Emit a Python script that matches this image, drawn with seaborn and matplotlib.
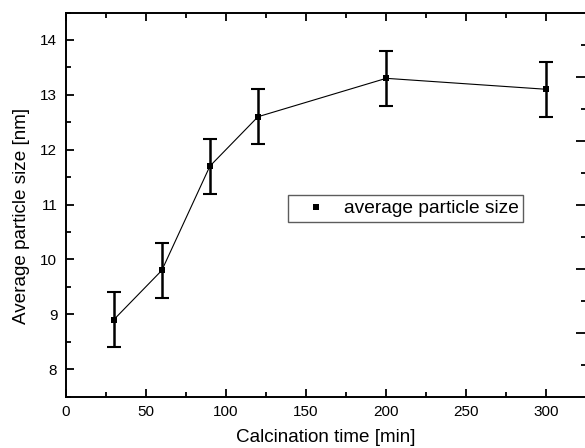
import matplotlib
matplotlib.use("Agg")
import matplotlib.pyplot as plt
import seaborn as sns
import pandas as pd
from matplotlib.lines import Line2D
from matplotlib.ticker import MultipleLocator, FixedLocator

time_min = [30, 60, 90, 120, 200, 300]
particle_size = [8.9, 9.8, 11.7, 12.6, 13.3, 13.1]
size_err = [0.5, 0.5, 0.5, 0.5, 0.5, 0.5]

sns.set_theme(style="ticks")
plt.rcParams['font.family'] = ['Liberation Sans', 'DejaVu Sans']
plt.rcParams['text.color'] = 'black'
plt.rcParams['axes.labelcolor'] = 'black'

W, H = 585, 448
fig = plt.figure(figsize=(W / 100, H / 100), dpi=100)
left, right, bottom, top = 65.7, 586.5, 396.5, 12.5
ax = fig.add_axes([left / W, 1 - bottom / H, (right - left) / W, (bottom - top) / H])

df = pd.DataFrame({"t": time_min, "s": particle_size})
ax.errorbar(time_min, particle_size, yerr=size_err, fmt="none", ecolor="black",
            elinewidth=1.8, capsize=5, capthick=1.5, zorder=2)
sns.lineplot(data=df, x="t", y="s", ax=ax, color="black", linewidth=0.8,
             marker="s", markersize=5, markeredgewidth=0, zorder=3)

ax.set_xlim(0, 325)
ax.set_ylim(7.5, 14.5)
ax.xaxis.set_major_locator(FixedLocator([0, 50, 100, 150, 200, 250, 300]))
ax.xaxis.set_minor_locator(MultipleLocator(25))
ax.yaxis.set_major_locator(FixedLocator([8, 9, 10, 11, 12, 13, 14]))
ax.yaxis.set_minor_locator(MultipleLocator(0.5))

for s in ax.spines.values():
    s.set_linewidth(1.4)
    s.set_color("black")
ax.spines["right"].set_visible(False)

ax.tick_params(axis="both", which="both", direction="in", colors="black",
               labelsize=11, width=1.3, top=True, right=False, labeltop=False)
ax.tick_params(axis="both", which="major", length=6, pad=6)
ax.tick_params(axis="both", which="minor", length=3.5)

ax.set_xlabel("Calcination time [min]", fontsize=13.6, labelpad=7, color="black")
ax.set_ylabel("Average particle size [nm]", fontsize=13.6, labelpad=8, color="black")
ax.yaxis.set_label_coords(-0.068, 0.47)

# secondary right axis (ticks only)
ax2 = ax.twinx()
ax2.set_ylim(0, 6)
ax2.yaxis.set_major_locator(FixedLocator([1, 2, 3, 4, 5]))
ax2.yaxis.set_minor_locator(FixedLocator([0.5, 1.5, 2.5, 3.5, 4.5, 5.5]))
ax2.tick_params(axis="y", which="both", direction="in", width=1.3,
                labelright=False, colors="black")
ax2.tick_params(axis="y", which="major", length=8)
ax2.tick_params(axis="y", which="minor", length=4)
for s in ax2.spines.values():
    s.set_visible(False)

handle = Line2D([], [], linestyle="none", marker="s", markersize=5,
                color="black", markeredgewidth=0)
leg = ax.legend([handle], ["average particle size"], loc="upper left",
                bbox_to_anchor=((288 - left) / (right - left), (bottom - 195) / (bottom - top)),
                frameon=True, fancybox=False, shadow=False, fontsize=13.8,
                borderpad=0.25, handletextpad=0.25, handlelength=2.4,
                borderaxespad=0)
leg.get_frame().set_edgecolor("#333333")
leg.get_frame().set_linewidth(1.0)

fig.savefig("out.png", dpi=100)
